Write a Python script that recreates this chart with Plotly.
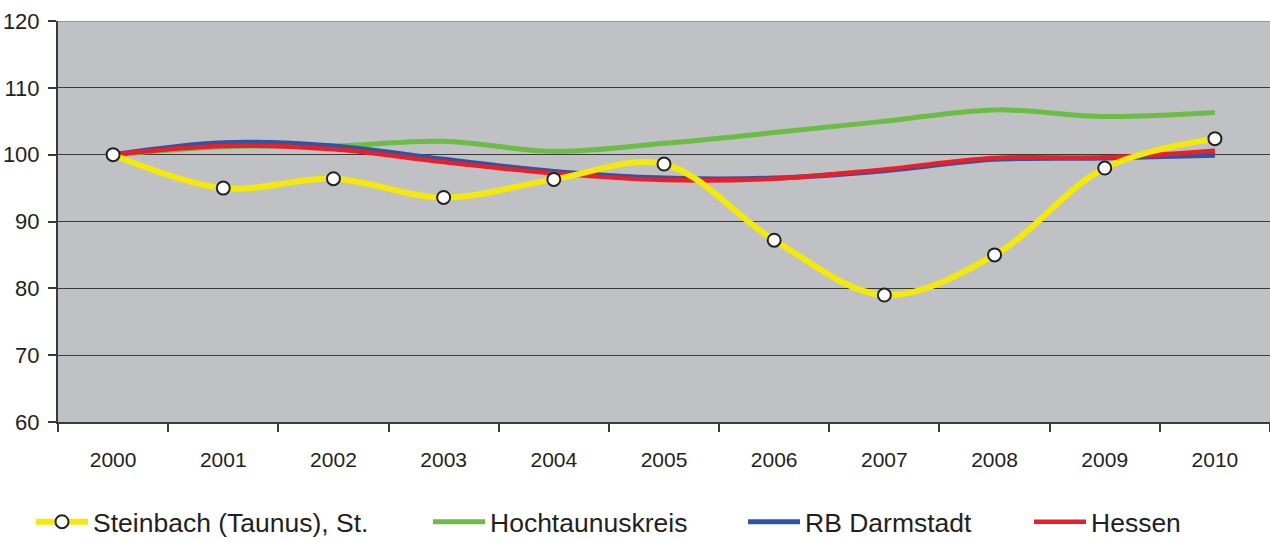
import plotly.graph_objects as go

years = ["2000", "2001", "2002", "2003", "2004", "2005", "2006", "2007", "2008", "2009", "2010"]
steinbach = [100.0, 95.0, 96.4, 93.6, 96.3, 98.6, 87.2, 79.0, 85.0, 98.0, 102.4]
hochtaunus = [100.0, 101.2, 101.3, 102.0, 100.5, 101.7, 103.3, 105.0, 106.7, 105.7, 106.3]
darmstadt = [100.0, 101.8, 101.3, 99.3, 97.5, 96.5, 96.5, 97.6, 99.3, 99.5, 99.9]
hessen = [100.0, 101.3, 100.8, 98.9, 97.2, 96.2, 96.4, 97.8, 99.5, 99.6, 100.6]

names = ["Steinbach (Taunus), St.", "Hochtaunuskreis", "RB Darmstadt", "Hessen"]
y_ticks = [60, 70, 80, 90, 100, 110, 120]

FONT = "Liberation Sans Narrow, Arial Narrow, Liberation Sans, Arial, sans-serif"

fig = go.Figure()

fig.add_trace(go.Scatter(
    x=years, y=hochtaunus, name=names[1], mode="lines",
    line=dict(color="#6BBD45", width=5, shape="spline", smoothing=1),
    legend="legend2"))
fig.add_trace(go.Scatter(
    x=years, y=darmstadt, name=names[2], mode="lines",
    line=dict(color="#2F54A4", width=5, shape="spline", smoothing=1),
    legend="legend3"))
fig.add_trace(go.Scatter(
    x=years, y=hessen, name=names[3], mode="lines",
    line=dict(color="#EA1F29", width=4.5, shape="spline", smoothing=1),
    legend="legend4"))
fig.add_trace(go.Scatter(
    x=years, y=steinbach, name=names[0], mode="lines+markers",
    line=dict(color="#F3E90B", width=6, shape="spline", smoothing=1),
    marker=dict(symbol="circle", size=13, color="white",
                line=dict(color="#222222", width=2)),
    legend="legend"))

W, H = 1270, 541
ml, mr, mt, mb = 58, 0, 21, 119
pw = W - ml - mr
ph = H - mt - mb

def lx(px):
    return (px - ml) / pw

leg_y = -(522 - (H - mb)) / ph
leg_common = dict(orientation="h", yanchor="middle", y=leg_y, xanchor="left",
                  font=dict(family=FONT, size=26.5, color="#231F20"),
                  bgcolor="rgba(0,0,0,0)", itemwidth=52, borderwidth=0)

fig.update_layout(
    width=W, height=H,
    margin=dict(l=ml, r=mr, t=mt, b=mb, autoexpand=False),
    paper_bgcolor="white",
    plot_bgcolor="#C0C1C5",
    showlegend=True,
    legend=dict(x=lx(31), **leg_common),
    legend2=dict(x=lx(428), **leg_common),
    legend3=dict(x=lx(743), **leg_common),
    legend4=dict(x=lx(1029), **leg_common),
    xaxis=dict(
        type="category", range=[-0.5, 10.5], automargin=False,
        showgrid=False, zeroline=False,
        showline=True, linecolor="#3A3A3A", linewidth=2,
        ticks="outside", tickson="boundaries", ticklen=8, tickcolor="#3A3A3A", tickwidth=1.5,
        tickfont=dict(family=FONT, size=21, color="#231F20"),
        ticklabelstandoff=18,
    ),
    yaxis=dict(
        range=[60, 120], tickvals=y_ticks, automargin=False,
        showgrid=True, gridcolor="#3A3A3A", gridwidth=1,
        zeroline=False,
        showline=True, linecolor="#3A3A3A", linewidth=2,
        ticks="outside", ticklen=8, tickcolor="#3A3A3A", tickwidth=1.5,
        tickfont=dict(family=FONT, size=22, color="#231F20"),
        ticklabelstandoff=4,
    ),
    shapes=[dict(type="line", xref="paper", yref="y", x0=0, x1=1, y0=120, y1=120,
                 line=dict(color="#9A9A9A", width=2), layer="above")],
)

fig.write_html("out.html", config={"displayModeBar": False},
               post_script="document.body.style.margin='0';")
